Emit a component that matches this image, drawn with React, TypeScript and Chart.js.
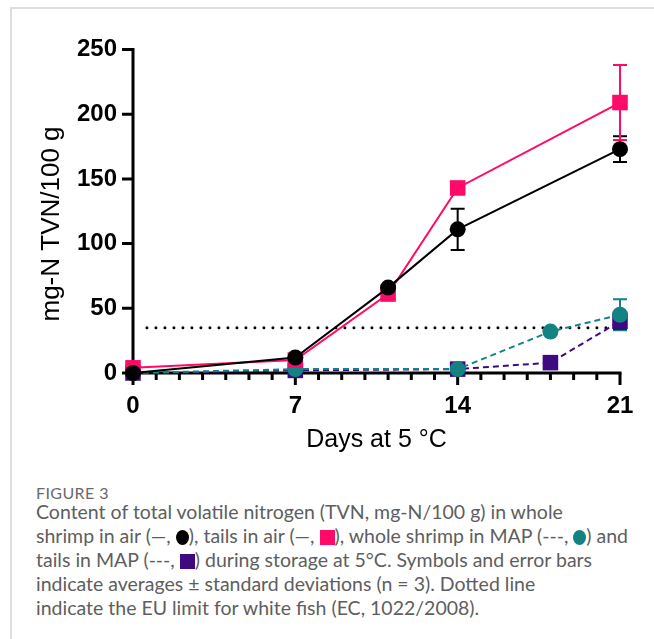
import React, { useEffect, useRef } from 'react';
import { Chart, registerables } from 'chart.js';

Chart.register(...registerables);

// ---- data ----
const airDays = [0, 7, 11, 14, 21];
const mapDays = [0, 7, 14, 18, 21];
const wholeAir = [0, 12, 66, 111, 173];
const wholeAirSd = [0, 1, 2, 16, 10];
const tailsAir = [4, 10, 61, 143, 209];
const tailsAirSd = [0, 1, 2, 2, 29];
const wholeMap = [0, 3, 3, 32, 45];
const wholeMapSd = [0, 0, 0, 1, 12];
const tailsMap = [0, 2, 3, 8, 40];
const tailsMapSd = [0, 0, 0, 1, 6];
const euLimitDays = [0.6, 21];
const euLimitValues = [35, 35];
const xMajorTicks = [0, 7, 14, 21];
const xMinorTicks = [0, 1, 2, 3, 4, 5, 6, 7, 8, 9, 10, 11, 12, 13, 14, 15, 16, 17, 18, 19, 20, 21];
const yTicks = [0, 50, 100, 150, 200, 250];
const xTitle = 'Days at 5 °C';
const yTitle = 'mg-N TVN/100 g';

const BLACK = '#000000';
const PINK = '#FF0A68';
const TEAL = '#128282';
const PURPLE = '#3E0A82';
const FONT = '"Liberation Sans", Arial, sans-serif';

const sdById: Record<string, number[]> = {
  wholeAir: wholeAirSd,
  tailsAir: tailsAirSd,
  wholeMap: wholeMapSd,
  tailsMap: tailsMapSd,
};

const toPts = (xs: number[], ys: number[]) => xs.map((x, i) => ({ x, y: ys[i] }));

const gpPlugin = {
  id: 'gpAxes',
  beforeDatasetsDraw(chart: any) {
    const { ctx, scales } = chart;
    const xs = scales.x;
    const ys = scales.y;
    const x0 = xs.getPixelForValue(0);
    const x21 = xs.getPixelForValue(21);
    const y0 = ys.getPixelForValue(0);
    const yTop = ys.getPixelForValue(250);
    ctx.save();
    ctx.strokeStyle = '#000';
    ctx.lineWidth = 3;
    ctx.lineCap = 'butt';
    ctx.beginPath();
    ctx.moveTo(x0, yTop - 1.5);
    ctx.lineTo(x0, y0);
    ctx.moveTo(x0 - 1.5, y0);
    ctx.lineTo(x21 + 1.5, y0);
    ctx.stroke();
    ctx.beginPath();
    yTicks.forEach((v) => {
      const py = ys.getPixelForValue(v);
      ctx.moveTo(x0 - 11, py);
      ctx.lineTo(x0, py);
    });
    xMinorTicks.forEach((d) => {
      const px = xs.getPixelForValue(d);
      const len = xMajorTicks.includes(d) ? 12 : 7;
      ctx.moveTo(px, y0);
      ctx.lineTo(px, y0 + len);
    });
    ctx.stroke();
    // error bars
    chart.data.datasets.forEach((ds: any) => {
      const sd = sdById[ds.id];
      if (!sd) return;
      ctx.strokeStyle = ds.borderColor;
      ctx.lineWidth = 2;
      ds.data.forEach((p: any, i: number) => {
        if (!sd[i]) return;
        const px = xs.getPixelForValue(p.x);
        const hi = ys.getPixelForValue(p.y + sd[i]);
        const lo = ys.getPixelForValue(p.y - sd[i]);
        ctx.beginPath();
        ctx.moveTo(px, hi);
        ctx.lineTo(px, lo);
        ctx.moveTo(px - 7, hi);
        ctx.lineTo(px + 7, hi);
        ctx.moveTo(px - 7, lo);
        ctx.lineTo(px + 7, lo);
        ctx.stroke();
      });
    });
    ctx.restore();
  },
  afterDraw(chart: any) {
    const { ctx, scales } = chart;
    const xs = scales.x;
    ctx.save();
    ctx.fillStyle = '#000';
    ctx.font = `25px ${FONT}`;
    ctx.textAlign = 'center';
    ctx.textBaseline = 'middle';
    ctx.fillText(xTitle, (xs.getPixelForValue(0) + xs.getPixelForValue(21)) / 2, 440);
    ctx.translate(52, 224);
    ctx.rotate(-Math.PI / 2);
    ctx.font = `26px ${FONT}`;
    ctx.fillText(yTitle, 0, 0);
    ctx.restore();
  },
};

function App() {
  const ref = useRef<HTMLCanvasElement | null>(null);
  useEffect(() => {
    if (!ref.current) return;
    const chart = new Chart(ref.current, {
      type: 'line',
      data: {
        datasets: [
          {
            id: 'wholeAir',
            data: toPts(airDays, wholeAir),
            borderColor: BLACK,
            backgroundColor: BLACK,
            borderWidth: 2,
            pointStyle: 'circle',
            pointRadius: 8,
            pointBorderWidth: 0,
            clip: false,
          },
          {
            id: 'tailsAir',
            data: toPts(airDays, tailsAir),
            borderColor: PINK,
            backgroundColor: PINK,
            borderWidth: 2,
            pointStyle: 'rect',
            pointRadius: 11,
            pointBorderWidth: 0,
            clip: false,
          },
          {
            id: 'wholeMap',
            data: toPts(mapDays, wholeMap),
            borderColor: TEAL,
            backgroundColor: TEAL,
            borderWidth: 2,
            borderDash: [6, 4],
            pointStyle: 'circle',
            pointRadius: 8,
            pointBorderWidth: 0,
            clip: false,
          },
          {
            id: 'tailsMap',
            data: toPts(mapDays, tailsMap),
            borderColor: PURPLE,
            backgroundColor: PURPLE,
            borderWidth: 2,
            borderDash: [6, 4],
            pointStyle: 'rect',
            pointRadius: 11,
            pointBorderWidth: 0,
            clip: false,
          },
          {
            id: 'euLimit',
            data: toPts(euLimitDays, euLimitValues),
            borderColor: BLACK,
            borderWidth: 3,
            borderDash: [0, 9],
            borderCapStyle: 'round',
            pointRadius: 0,
            clip: false,
          },
        ] as any,
      },
      options: {
        animation: false,
        responsive: false,
        maintainAspectRatio: false,
        layout: { padding: { left: 0, right: 34, top: 49.5, bottom: 0 } },
        plugins: { legend: { display: false }, tooltip: { enabled: false } },
        elements: { line: { tension: 0 } },
        scales: {
          x: {
            type: 'linear',
            min: 0,
            max: 21,
            grid: { display: false, drawTicks: false },
            border: { display: false },
            afterFit: (s: any) => { s.height = 97; },
            afterBuildTicks: (s: any) => { s.ticks = xMajorTicks.map((v) => ({ value: v })); },
            ticks: {
              padding: 19,
              color: '#000',
              font: { family: FONT, size: 24, weight: 'bold' },
              maxRotation: 0,
              autoSkip: false,
            },
          },
          y: {
            type: 'linear',
            min: 0,
            max: 250,
            grid: { display: false, drawTicks: false },
            border: { display: false },
            afterFit: (s: any) => { s.width = 133; },
            afterBuildTicks: (s: any) => { s.ticks = yTicks.map((v) => ({ value: v })); },
            ticks: {
              padding: 16,
              color: '#000',
              font: { family: FONT, size: 24, weight: 'bold' },
            },
          },
        },
      } as any,
      plugins: [gpPlugin],
    });
    return () => chart.destroy();
  }, []);

  const sym = (color: string, round: boolean) => (
    <span
      style={{
        display: 'inline-block',
        width: round ? 13 : 15,
        height: round ? 15 : 15,
        borderRadius: round ? '50%' : 0,
        background: color,
        verticalAlign: '-2px',
      }}
    />
  );

  const capStyle: React.CSSProperties = {
    position: 'absolute',
    left: 36,
    fontFamily: 'Lato, "Open Sans", sans-serif',
    whiteSpace: 'nowrap',
    color: '#5e5e5e',
  };

  return (
    <div style={{ position: 'absolute', left: 0, top: 0, width: 654, height: 639, background: '#fff', overflow: 'hidden' }}>
      <div style={{ position: 'absolute', left: 10, top: 7, width: 700, height: 700, borderLeft: '2px solid #dedede', borderTop: '2px solid #dedede' }} />
      <canvas ref={ref} width={654} height={470} style={{ position: 'absolute', left: 0, top: 0, width: 654, height: 470 }} />
      <div style={{ ...capStyle, top: 483, fontSize: 16, letterSpacing: '0.4px', color: '#6a6a6a' }}>FIGURE 3</div>
      <div style={{ ...capStyle, top: 500, fontSize: 19.5, lineHeight: '24px' }}>
        <div>Content of total volatile nitrogen (TVN, mg-N/100 g) in whole</div>
        <div>shrimp in air (—, {sym(BLACK, true)}), tails in air (—, {sym(PINK, false)}), whole shrimp in MAP (---, {sym(TEAL, true)}) and</div>
        <div>tails in MAP (---, {sym(PURPLE, false)}) during storage at 5°C. Symbols and error bars</div>
        <div>indicate averages ± standard deviations (n = 3). Dotted line</div>
        <div>indicate the EU limit for white fish (EC, 1022/2008).</div>
      </div>
    </div>
  );
}

export default App;
